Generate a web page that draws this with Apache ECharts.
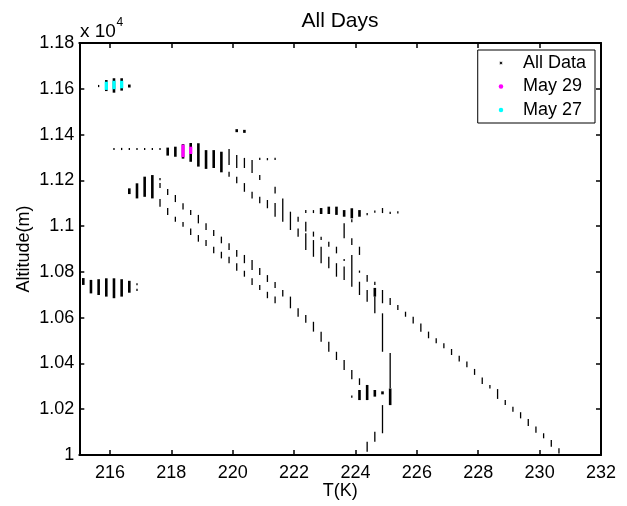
<!DOCTYPE html>
<html><head><meta charset="utf-8">
<script src="https://cdn.jsdelivr.net/npm/echarts@6/dist/echarts.min.js"></script>
<style>html,body{margin:0;padding:0;background:#fff}#c{width:627px;height:506px}</style>
</head><body><div id="c"></div>
<script>
// Tick values and labels
const xTicks = [216, 218, 220, 222, 224, 226, 228, 230, 232];
const yTicks = [10000, 10200, 10400, 10600, 10800, 11000, 11200, 11400, 11600, 11800];
const yTickLabels = ['1', '1.02', '1.04', '1.06', '1.08', '1.1', '1.12', '1.14', '1.16', '1.18'];

// Each record: [T (K), altitude low (m), altitude high (m)]
const allDataHeavy = [
  [215.88, 11590, 11638], [216.13, 11583, 11646], [216.38, 11592, 11646], [216.63, 11606, 11618],
  [215.13, 10743, 10773], [215.38, 10706, 10765], [215.63, 10699, 10768], [215.88, 10692, 10772],
  [216.13, 10685, 10772], [216.38, 10692, 10768], [216.63, 10709, 10761],
  [216.63, 11140, 11165], [216.88, 11121, 11187], [217.13, 11128, 11216], [217.38, 11121, 11223],
  [217.88, 11308, 11343], [218.13, 11303, 11347], [218.38, 11295, 11358], [218.63, 11281, 11363],
  [218.88, 11260, 11362], [219.13, 11250, 11332], [219.38, 11254, 11332], [219.63, 11235, 11325],
  [220.13, 11412, 11422], [220.38, 11412, 11416],
  [222.88, 11053, 11079], [223.13, 11053, 11085], [223.38, 11049, 11085], [223.63, 11041, 11070],
  [223.88, 11034, 11078], [224.13, 11041, 11070],
  [224.13, 10240, 10284], [224.38, 10240, 10306], [224.63, 10255, 10284], [224.88, 10266, 10277],
  [225.13, 10218, 10291], [224.63, 10692, 10730]
];

const allDataLight = [
  [215.63, 11610, 11614],
  [216.88, 10744, 10748], [216.88, 10719, 10723],
  [216.13, 11337, 11337], [216.38, 11337, 11337], [216.63, 11337, 11337], [216.88, 11337, 11337],
  [217.13, 11337, 11337], [217.38, 11337, 11337], [217.63, 11337, 11337],
  [217.63, 11201, 11210], [217.63, 11166, 11188], [217.88, 11136, 11162], [218.13, 11105, 11136],
  [218.38, 11073, 11100], [218.63, 11049, 11070], [218.88, 11012, 11049], [219.13, 10983, 11012],
  [219.38, 10957, 10983], [219.63, 10925, 10954], [219.88, 10896, 10925], [220.13, 10866, 10896],
  [220.38, 10838, 10874], [220.63, 10808, 10852], [220.88, 10786, 10817], [221.13, 10756, 10786],
  [221.38, 10730, 10756], [221.63, 10692, 10721], [221.88, 10641, 10692], [222.13, 10604, 10641],
  [222.38, 10578, 10612], [222.63, 10539, 10582], [222.88, 10495, 10539], [223.13, 10451, 10495],
  [223.38, 10415, 10451], [223.63, 10371, 10415], [223.88, 10331, 10371], [224.13, 10306, 10335],
  [223.88, 10253, 10257], [224.38, 10014, 10058], [224.63, 10058, 10102],
  [217.63, 11085, 11118], [217.88, 11049, 11079], [218.13, 11019, 11041], [218.38, 10997, 11018],
  [218.63, 10961, 10990], [218.88, 10932, 10961], [219.13, 10913, 10939], [219.38, 10881, 10910],
  [219.63, 10859, 10888], [219.88, 10838, 10866], [220.13, 10805, 10838], [220.38, 10779, 10805],
  [220.63, 10743, 10772], [220.88, 10721, 10743], [221.13, 10685, 10713], [221.38, 10663, 10692],
  [219.88, 11267, 11337], [220.13, 11254, 11311], [220.38, 11254, 11298], [220.63, 11232, 11289],
  [220.88, 11292, 11295], [221.13, 11291, 11294], [221.38, 11292, 11295],
  [219.88, 11216, 11238], [220.13, 11187, 11216], [220.38, 11150, 11188], [220.63, 11121, 11150],
  [220.88, 11201, 11223], [220.88, 11100, 11128], [221.13, 11078, 11114], [221.38, 11143, 11172],
  [221.38, 11041, 11101], [221.63, 11019, 11121], [221.88, 10983, 11063],
  [222.13, 11019, 11041], [222.13, 10954, 10990],
  [222.38, 11057, 11070], [222.38, 10976, 11019], [222.38, 10896, 10969],
  [222.63, 11057, 11070], [222.63, 10954, 10976], [222.63, 10866, 10939],
  [222.88, 10939, 10954], [222.88, 10838, 10910],
  [223.13, 10910, 10932], [223.13, 10816, 10866],
  [223.38, 10881, 10910], [223.38, 10779, 10838],
  [223.63, 10947, 11012], [223.63, 10850, 10854], [223.63, 10765, 10823],
  [223.88, 11017, 11030], [223.88, 10917, 10947], [223.88, 10735, 10874],
  [224.13, 10874, 10910], [224.13, 10799, 10803], [224.13, 10699, 10757],
  [224.38, 11050, 11055], [224.38, 10757, 10786], [224.38, 10670, 10721],
  [224.63, 11060, 11066], [224.63, 10743, 10757], [224.63, 10619, 10692],
  [224.88, 11057, 11079], [224.88, 10663, 10721], [224.88, 10451, 10619], [224.88, 10095, 10218],
  [225.13, 11055, 11060], [225.13, 10655, 10686], [225.13, 10293, 10446],
  [225.38, 11058, 11062], [225.38, 10633, 10655],
  [225.63, 10604, 10626], [225.88, 10575, 10604], [226.13, 10539, 10575], [226.38, 10510, 10539],
  [226.63, 10488, 10510], [226.88, 10466, 10488], [227.13, 10437, 10463], [227.38, 10408, 10434],
  [227.63, 10383, 10408], [227.88, 10350, 10376], [228.13, 10310, 10339], [228.38, 10291, 10306],
  [228.63, 10245, 10288], [228.88, 10218, 10240], [229.13, 10189, 10211], [229.38, 10160, 10187],
  [229.63, 10127, 10157], [229.88, 10097, 10124], [230.13, 10073, 10095], [230.38, 10036, 10066],
  [230.63, 10007, 10029]
];

const may29 = [[218.38, 11301, 11356], [218.63, 11315, 11347]];
const may27 = [[215.88, 11595, 11631], [216.13, 11598, 11635], [216.38, 11602, 11635]];

const FONT = '"Liberation Sans", Arial, Helvetica, sans-serif';

function dashRenderer(width, minH) {
  return function (params, api) {
    const a = api.coord([api.value(0), api.value(1)]);
    const b = api.coord([api.value(0), api.value(2)]);
    let y0 = Math.min(a[1], b[1]), y1 = Math.max(a[1], b[1]);
    if (y1 - y0 < minH) { const m = (y0 + y1) / 2; y0 = m - minH / 2; y1 = m + minH / 2; }
    return { type: 'rect', shape: { x: a[0] - width / 2, y: y0, width: width, height: y1 - y0 },
             style: { fill: api.visual('color') } };
  };
}

// asterisk-like legend icon
const pts = [];
for (let i = 0; i < 16; i++) {
  const ang = Math.PI * i / 8 - Math.PI / 2;
  const r = i % 2 === 0 ? 5 : 1.7;
  pts.push((r * Math.cos(ang)).toFixed(2) + ',' + (r * Math.sin(ang)).toFixed(2));
}
const starIcon = 'path://M' + pts.join('L') + 'Z';

const chart = echarts.init(document.getElementById('c'), null, { renderer: 'canvas' });
const axisLine = { show: true, onZero: false, lineStyle: { color: '#000', width: 2 } };
const tickStyle = { color: '#000', width: 1.5 };

chart.setOption({
  animation: false,
  backgroundColor: '#fff',
  grid: { left: 79.3, right: 26, top: 43, bottom: 51, containLabel: false, outerBoundsMode: 'none' },
  xAxis: [
    { type: 'value', min: 215, max: 232, position: 'bottom', axisLine: axisLine,
      axisTick: { show: true, inside: true, length: 5, lineStyle: tickStyle, customValues: xTicks },
      axisLabel: { show: true, customValues: xTicks, fontSize: 18, color: '#000', fontFamily: FONT, margin: 9 },
      splitLine: { show: false },
      name: 'T(K)', nameLocation: 'middle', nameGap: 27, nameMoveOverlap: false,
      nameTextStyle: { fontSize: 18, color: '#000', fontFamily: FONT } },
    { type: 'value', min: 215, max: 232, position: 'top', axisLine: axisLine,
      axisTick: { show: true, inside: true, length: 5, lineStyle: tickStyle, customValues: xTicks },
      axisLabel: { show: false }, splitLine: { show: false } }
  ],
  yAxis: [
    { type: 'value', min: 10000, max: 11800, interval: 200, position: 'left', axisLine: axisLine,
      axisTick: { show: true, inside: true, length: 5, lineStyle: tickStyle },
      axisLabel: { show: true, fontSize: 18, color: '#000', fontFamily: FONT, margin: 5,
        formatter: function (v) { const i = yTicks.indexOf(v); return i >= 0 ? yTickLabels[i] : ''; } },
      splitLine: { show: false },
      name: 'Altitude(m)', nameLocation: 'middle', nameGap: 46, nameMoveOverlap: false,
      nameTextStyle: { fontSize: 18, color: '#000', fontFamily: FONT } },
    { type: 'value', min: 10000, max: 11800, interval: 200, position: 'right', axisLine: axisLine,
      axisTick: { show: true, inside: true, length: 5, lineStyle: tickStyle },
      axisLabel: { show: false }, splitLine: { show: false } }
  ],
  legend: {
    orient: 'vertical', right: 32, top: 50, padding: [4, 9, 4, 21], itemGap: 5.5,
    itemWidth: 34, itemHeight: 4.5, borderColor: '#000', borderWidth: 1, backgroundColor: '#fff',
    selectedMode: false,
    textStyle: { fontSize: 18, color: '#000', fontFamily: FONT },
    data: [ { name: 'All Data', icon: starIcon }, { name: 'May 29', icon: 'circle' }, { name: 'May 27', icon: 'circle' } ]
  },
  graphic: [
    { type: 'text', x: 340, y: 21.7, style: { text: 'All Days', font: '21px ' + FONT, fill: '#000', align: 'center', verticalAlign: 'middle' } },
    { type: 'text', x: 80, y: 31.5, style: { text: 'x 10', font: '19px ' + FONT, fill: '#000', align: 'left', verticalAlign: 'middle' } },
    { type: 'text', x: 116.5, y: 23, style: { text: '4', font: '12px ' + FONT, fill: '#000', align: 'left', verticalAlign: 'middle' } }
  ],
  series: [
    { name: 'All Data', type: 'custom', coordinateSystem: 'cartesian2d', xAxisIndex: 0, yAxisIndex: 0,
      clip: true, encode: { x: 0, y: [1, 2] }, itemStyle: { color: '#000' },
      renderItem: dashRenderer(1.3, 2.2), data: allDataLight, silent: true },
    { name: 'All Data', type: 'custom', coordinateSystem: 'cartesian2d', xAxisIndex: 0, yAxisIndex: 0,
      clip: true, encode: { x: 0, y: [1, 2] }, itemStyle: { color: '#000' },
      renderItem: dashRenderer(2.6, 3), data: allDataHeavy, silent: true },
    { name: 'May 29', type: 'custom', coordinateSystem: 'cartesian2d', xAxisIndex: 0, yAxisIndex: 0,
      clip: true, encode: { x: 0, y: [1, 2] }, itemStyle: { color: '#ff00ff' },
      renderItem: dashRenderer(3.3, 3), data: may29, silent: true },
    { name: 'May 27', type: 'custom', coordinateSystem: 'cartesian2d', xAxisIndex: 0, yAxisIndex: 0,
      clip: true, encode: { x: 0, y: [1, 2] }, itemStyle: { color: '#00ffff' },
      renderItem: dashRenderer(3.3, 3), data: may27, silent: true }
  ]
});
</script>
</body></html>
